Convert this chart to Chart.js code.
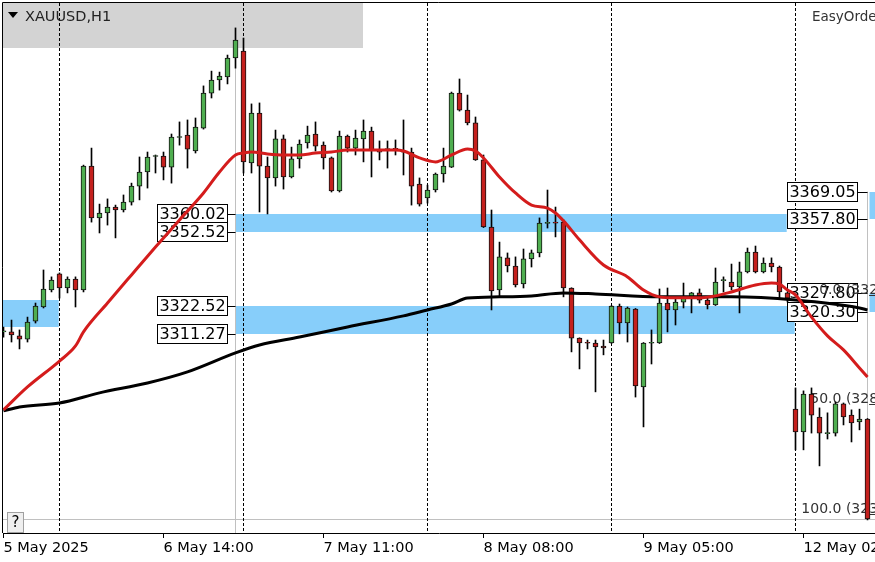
<!DOCTYPE html>
<html>
<head>
<meta charset="utf-8">
<script src="https://cdn.jsdelivr.net/npm/chart.js@4"></script>
<style>
  html, body { margin: 0; padding: 0; background: #fff; }
  #wrap { width: 875px; height: 562px; }
</style>
</head>
<body>
<div id="wrap"><canvas id="chart" width="875" height="562"></canvas></div>
<script>
// H1 bars, index 0 = 5 May 17:00
const opens = [3312.2,3312.2,3310.6,3309.3,3316.6,3322.3,3329.2,3335.7,3330.0,3333.6,
  3329.2,3379.4,3358.4,3360.4,3362.8,3361.6,3364.8,3371.3,3377.0,3383.3,
  3383.5,3379.0,3391.0,3392.0,3385.5,3394.8,3409.0,3414.3,3415.5,3423.2,
  3426.0,3380.7,3400.9,3379.4,3374.6,3390.4,3375.0,3382.3,3388.8,3392.4,
  3387.9,3382.7,3369.3,3391.6,3386.7,3390.4,3393.6,3385.3,3386.1,3386.4,
  3385.0,3385.1,3372.1,3366.5,3369.7,3376.2,3379.0,3409.0,3402.1,3396.9,
  3381.9,3354.7,3329.2,3342.2,3338.9,3331.6,3341.8,3344.2,3356.2,3356.5,
  3356.7,3330.0,3309.7,3307.8,3307.7,3306.5,3307.7,3322.7,3315.8,3321.5,
  3289.9,3307.6,3307.7,3323.9,3321.1,3324.3,3326.4,3328.0,3325.1,3323.1,
  3333.0,3332.4,3330.4,3336.5,3344.6,3336.5,3340.1,3338.5,3328.0,3280.9,
  3271.7,3287.0,3277.7,3271.0,3271.2,3283.0,3278.5,3275.7,3276.9];
const highs = [3314.2,3317.0,3313.0,3318.2,3323.9,3337.3,3334.5,3336.1,3334.5,3334.5,
  3379.8,3386.7,3364.0,3366.1,3363.6,3367.7,3372.5,3383.1,3385.1,3383.9,
  3385.1,3392.4,3397.3,3398.1,3398.9,3411.9,3417.9,3417.5,3424.4,3435.4,
  3431.3,3404.6,3405.0,3383.1,3394.0,3392.0,3387.1,3390.0,3395.6,3397.3,
  3389.2,3383.1,3393.6,3392.0,3394.0,3398.1,3395.2,3389.6,3389.6,3390.0,
  3398.1,3386.7,3374.6,3371.7,3376.6,3386.7,3409.4,3414.7,3408.2,3399.3,
  3383.9,3361.6,3348.6,3344.2,3342.6,3345.8,3345.4,3358.4,3369.7,3362.8,
  3357.6,3330.1,3309.8,3308.9,3308.9,3308.9,3322.9,3323.5,3322.3,3321.7,
  3307.9,3313.0,3329.6,3330.0,3325.9,3332.0,3328.2,3329.6,3325.9,3338.1,
  3334.5,3339.7,3340.5,3346.2,3347.0,3342.2,3342.2,3338.9,3328.4,3289.5,
  3288.3,3289.5,3281.4,3279.4,3283.8,3283.4,3280.6,3280.9,3277.1];
const lows = [3310.1,3308.1,3305.3,3308.1,3315.8,3321.9,3328.4,3325.9,3328.0,3322.3,
  3328.4,3356.7,3352.3,3355.5,3350.3,3360.8,3363.6,3365.7,3370.5,3376.6,
  3373.8,3372.5,3387.9,3378.6,3384.7,3394.4,3407.0,3410.2,3412.7,3419.1,
  3376.6,3376.6,3360.8,3360.0,3371.3,3370.1,3374.6,3378.6,3386.7,3385.5,
  3378.2,3368.9,3368.9,3385.1,3383.9,3381.1,3375.0,3381.9,3378.6,3383.9,
  3375.8,3363.6,3363.2,3364.4,3368.9,3372.9,3378.8,3401.7,3396.1,3381.7,
  3354.5,3321.1,3326.8,3336.5,3330.4,3330.0,3338.5,3342.6,3354.3,3350.7,
  3326.4,3304.1,3297.2,3305.3,3287.9,3302.9,3307.5,3311.4,3308.1,3285.8,
  3273.7,3299.2,3307.5,3312.2,3315.0,3321.9,3319.9,3323.9,3321.5,3322.9,
  3328.4,3329.2,3319.9,3336.1,3336.1,3336.1,3336.5,3325.5,3324.3,3264.4,
  3264.4,3271.2,3257.9,3268.8,3270.0,3274.5,3267.6,3272.5,3236.0];
const closes = [3312.4,3311.0,3309.3,3316.2,3322.7,3329.6,3333.2,3330.0,3333.6,3329.2,
  3379.4,3358.4,3360.4,3362.8,3361.6,3364.8,3371.3,3377.0,3383.1,3383.6,
  3379.0,3391.2,3391.3,3386.3,3395.2,3409.0,3414.3,3415.9,3423.2,3430.5,
  3381.1,3400.9,3379.4,3374.6,3390.4,3375.0,3382.3,3388.3,3392.0,3387.5,
  3382.7,3369.3,3391.6,3386.7,3390.8,3393.6,3385.9,3385.0,3386.4,3386.2,
  3385.2,3371.3,3364.0,3369.7,3376.2,3379.4,3409.0,3402.1,3396.9,3381.9,
  3354.7,3328.8,3342.6,3338.9,3331.2,3341.8,3344.2,3356.3,3356.5,3356.3,
  3330.0,3309.7,3307.7,3307.6,3306.1,3305.7,3322.7,3315.8,3321.9,3290.3,
  3307.7,3307.9,3323.9,3321.1,3324.3,3326.4,3328.0,3325.1,3323.1,3332.4,
  3333.3,3330.4,3336.5,3344.6,3336.5,3340.1,3338.5,3328.4,3325.9,3271.7,
  3287.0,3278.5,3271.2,3271.3,3283.0,3277.7,3275.3,3276.9,3236.4];

// moving averages (red fast, black slow), read at selected bars
const maFastBars = [0,3,7,9,10,13,16,19,22,25,27,29,30,31,33,35,37,39,41,43,45,47,49,50,52,54,56,58,59,60,
  62,64,66,68,69,70,72,75,78,80,82,84,87,89,91,94,96,97,98,99,101,103,105,107,108];
const maFastValues = [3280.6,3289.9,3300.4,3306.5,3312.2,3323.9,3335.3,3346.6,3357.6,3368.5,
  3377.0,3383.9,3384.7,3385.1,3384.3,3383.9,3383.9,3384.7,3385.1,3385.9,
  3385.9,3385.9,3385.9,3385.5,3382.7,3381.1,3383.9,3386.3,3385.5,3382.7,
  3375.0,3368.5,3363.6,3362.4,3360.4,3357.2,3349.5,3339.3,3334.5,3329.2,
  3326.4,3326.0,3326.0,3326.8,3328.4,3331.2,3332.0,3331.6,3329.2,3327.2,
  3318.2,3310.6,3304.9,3297.6,3293.9];
const maSlowBars = [0,2,7,12,18,23,29,32,37,43,50,53,56,58,62,66,70,74,82,91,99,107,108];
const maSlowValues = [3280.2,3281.8,3283.4,3287.5,3291.5,3296.0,3303.7,3306.9,3310.1,3314.2,
  3318.7,3321.1,3323.5,3325.9,3326.4,3326.8,3328.0,3327.6,3326.4,3326.4,
  3325.1,3321.9,3321.1];

// time axis
const tickBars = [0, 20, 40, 60, 80, 100];
const tickLabels = ["5 May 2025", "6 May 14:00", "7 May 11:00", "8 May 08:00", "9 May 05:00", "12 May 02:00"];
const daySeparators = [7, 30, 53, 76, 99];

// supply / demand zones
const zoneFrom = [-1, 29, 29, 108.25, 108.25];
const zoneTo = [6.9, 97.9, 98.9, 115, 115];
const zoneHigh = [3325.1, 3360.02, 3322.52, 3369.05, 3327.80];
const zoneLow = [3314.2, 3352.52, 3311.27, 3357.80, 3320.30];

// price tags
const leftTagPrices = [3360.02, 3352.52, 3322.52, 3311.27];
const rightTagPrices = [3369.05, 3357.80, 3327.80, 3320.30];

// fibonacci
const fibLevels = [0, 50, 100];
const fibPrices = [3327.2, 3282.8, 3238.4];

const symbolTitle = "XAUUSD,H1";
const expertName = "EasyOrder";

const greenBody = '#4fae50';
const redBody = '#c4201d';
const FONT = '"DejaVu Sans", sans-serif';

const candleWicks = lows.map((l, i) => ({ x: i, y: [l, highs[i]] }));
const candleBodies = opens.map((o, i) => ({ x: i, y: [Math.min(o, closes[i]), Math.max(o, closes[i])] }));
const bodyColors = opens.map((o, i) => closes[i] >= o ? greenBody : redBody);
const fastLine = maFastBars.map((b, i) => ({ x: b, y: maFastValues[i] }));
const slowLine = maSlowBars.map((b, i) => ({ x: b, y: maSlowValues[i] }));

function priceTag(ctx, text, xRight, yc) {
    const w = 71, h = 20;
    const top = Math.round(yc - h / 2);
    const left = Math.round(xRight - w);
    ctx.fillStyle = '#fff';
    ctx.fillRect(left, top, w, h);
    ctx.strokeStyle = '#000';
    ctx.lineWidth = 1;
    ctx.strokeRect(left + 0.5, top + 0.5, w - 1, h - 1);
    ctx.fillStyle = '#000';
    ctx.font = '16px ' + FONT;
    ctx.textAlign = 'center';
    ctx.textBaseline = 'middle';
    ctx.fillText(text, left + w / 2, top + h / 2 + 1);
}

const mtOverlay = {
    id: 'mtOverlay',
    beforeDatasetsDraw(chart) {
        const { ctx, chartArea: a, scales: { x, y } } = chart;
        ctx.save();
        ctx.beginPath();
        ctx.rect(a.left, a.top, a.right - a.left, a.bottom - a.top);
        ctx.clip();

        // header strip
        ctx.fillStyle = '#d3d3d3';
        ctx.fillRect(a.left, a.top, 360, 45);

        // zones
        ctx.fillStyle = '#87cefa';
        zoneHigh.forEach((hi, k) => {
            const x0 = x.getPixelForValue(zoneFrom[k]);
            const x1 = x.getPixelForValue(zoneTo[k]);
            const y0 = Math.round(y.getPixelForValue(hi));
            const y1 = Math.round(y.getPixelForValue(zoneLow[k]));
            ctx.fillRect(x0, y0, x1 - x0, y1 - y0);
        });

        // bid line
        const bidY = Math.round(y.getPixelForValue(closes[closes.length - 1])) + 0.5;
        ctx.strokeStyle = '#c0c0c0';
        ctx.lineWidth = 1;
        ctx.beginPath();
        ctx.moveTo(a.left, bidY);
        ctx.lineTo(a.right, bidY);
        ctx.stroke();

        // vertical marker lines
        const vx = x.getPixelForValue(29);
        ctx.beginPath();
        ctx.moveTo(vx, a.top + 45);
        ctx.lineTo(vx, a.bottom);
        const vx2 = x.getPixelForValue(108);
        ctx.moveTo(vx2, y.getPixelForValue(rightTagPrices[0]));
        ctx.lineTo(vx2, y.getPixelForValue(fibPrices[2]));
        ctx.stroke();

        // day separators
        ctx.strokeStyle = '#000';
        ctx.setLineDash([3, 2]);
        daySeparators.forEach(b => {
            const px = x.getPixelForValue(b);
            ctx.beginPath();
            ctx.moveTo(px, a.top);
            ctx.lineTo(px, a.bottom);
            ctx.stroke();
        });
        ctx.setLineDash([]);

        // price tags with stubs
        ctx.strokeStyle = '#000';
        leftTagPrices.forEach(p => {
            const py = Math.round(y.getPixelForValue(p)) + 0.5;
            ctx.beginPath();
            ctx.moveTo(x.getPixelForValue(28), py);
            ctx.lineTo(x.getPixelForValue(29), py);
            ctx.stroke();
            priceTag(ctx, p.toFixed(2), x.getPixelForValue(28) + 0.5, y.getPixelForValue(p));
        });
        rightTagPrices.forEach(p => {
            const py = Math.round(y.getPixelForValue(p)) + 0.5;
            ctx.strokeStyle = '#000';
            ctx.beginPath();
            ctx.moveTo(x.getPixelForValue(106.8), py);
            ctx.lineTo(x.getPixelForValue(108), py);
            ctx.stroke();
            priceTag(ctx, p.toFixed(2), x.getPixelForValue(106.8), y.getPixelForValue(p));
        });

        // fibonacci levels
        ctx.font = '14px ' + FONT;
        ctx.textAlign = 'right';
        ctx.textBaseline = 'alphabetic';
        fibLevels.forEach((lv, k) => {
            const py = Math.round(y.getPixelForValue(fibPrices[k])) + 0.5;
            ctx.strokeStyle = '#333';
            ctx.beginPath();
            ctx.moveTo(x.getPixelForValue(108.2), py);
            ctx.lineTo(a.right, py);
            ctx.stroke();
            ctx.fillStyle = '#333';
            ctx.fillText(lv.toFixed(1) + ' (' + fibPrices[k].toFixed(2) + ')', x.getPixelForValue(113.9), py - 2);
        });
        ctx.restore();
    },
    afterDatasetsDraw(chart) {
        const { ctx, chartArea: a } = chart;
        ctx.save();
        // title
        ctx.fillStyle = '#000';
        ctx.beginPath();
        ctx.moveTo(a.left + 5, a.top + 9);
        ctx.lineTo(a.left + 15, a.top + 9);
        ctx.lineTo(a.left + 10, a.top + 15);
        ctx.closePath();
        ctx.fill();
        ctx.fillStyle = '#222';
        ctx.font = '14.5px ' + FONT;
        ctx.textAlign = 'left';
        ctx.textBaseline = 'middle';
        ctx.fillText(symbolTitle, a.left + 22, a.top + 14);
        ctx.fillStyle = '#333';
        ctx.font = '13.5px ' + FONT;
        ctx.fillText(expertName, 812, a.top + 14);

        // help button
        ctx.fillStyle = '#efefef';
        ctx.fillRect(a.left + 4, a.bottom - 21, 17, 21);
        ctx.strokeStyle = '#a0a0a0';
        ctx.strokeRect(a.left + 4.5, a.bottom - 20.5, 16, 20);
        ctx.fillStyle = '#000';
        ctx.font = '15px ' + FONT;
        ctx.textAlign = 'center';
        ctx.fillText('?', a.left + 12.5, a.bottom - 10);

        // frame
        ctx.strokeStyle = '#000';
        ctx.lineWidth = 1;
        ctx.beginPath();
        ctx.moveTo(a.left - 0.5, a.bottom);
        ctx.lineTo(a.left - 0.5, a.top - 0.5);
        ctx.lineTo(a.right, a.top - 0.5);
        ctx.stroke();
        ctx.restore();
    }
};

const xMin = -0.0625;

new Chart(document.getElementById('chart'), {
    type: 'bar',
    data: {
        datasets: [
            {
                type: 'line',
                label: 'MA fast',
                data: fastLine,
                borderColor: '#d41c1c',
                borderWidth: 3,
                pointRadius: 0,
                cubicInterpolationMode: 'monotone',
                order: 0
            },
            {
                type: 'line',
                label: 'MA slow',
                data: slowLine,
                borderColor: '#000',
                borderWidth: 3,
                pointRadius: 0,
                cubicInterpolationMode: 'monotone',
                order: 0
            },
            {
                label: 'body',
                data: candleBodies,
                backgroundColor: bodyColors,
                borderColor: '#111',
                borderWidth: 1,
                borderSkipped: false,
                barThickness: 5,
                minBarLength: 1,
                grouped: false,
                order: 1
            },
            {
                label: 'wick',
                data: candleWicks,
                backgroundColor: '#000',
                borderWidth: 0,
                barThickness: 1,
                grouped: false,
                order: 2
            }
        ]
    },
    options: {
        responsive: false,
        animation: false,
        devicePixelRatio: 1,
        layout: { padding: { left: 3, top: 3, right: 0, bottom: 0 } },
        plugins: { legend: { display: false }, tooltip: { enabled: false } },
        scales: {
            x: {
                type: 'linear',
                min: xMin,
                max: xMin + 872 / 8,
                offset: false,
                afterBuildTicks: s => { s.ticks = tickBars.map(v => ({ value: v })); },
                afterFit: s => { s.height = 29; s.paddingLeft = 0; s.paddingRight = 0; },
                grid: { offset: false, drawOnChartArea: false, drawTicks: true, tickLength: 5, color: '#000' },
                border: { display: true, color: '#000', width: 1 },
                ticks: {
                    autoSkip: false,
                    maxRotation: 0,
                    minRotation: 0,
                    align: 'start',
                    padding: 2,
                    color: '#000',
                    font: { family: 'DejaVu Sans', size: 14.5 },
                    callback: v => tickLabels[tickBars.indexOf(v)]
                }
            },
            y: {
                type: 'linear',
                display: false,
                beginAtZero: false,
                min: 3230.7,
                max: 3445.5
            }
        }
    },
    plugins: [mtOverlay]
});
</script>
</body>
</html>
